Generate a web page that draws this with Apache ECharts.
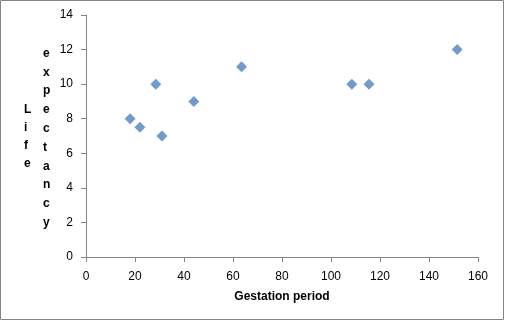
<!DOCTYPE html>
<html>
<head>
<meta charset="utf-8">
<script src="https://cdn.jsdelivr.net/npm/echarts@6/dist/echarts.min.js"></script>
<style>
html,body{margin:0;padding:0;background:#fff;}
#chart{width:505px;height:321px;}
</style>
</head>
<body>
<div id="chart"></div>
<script>
// gestation period vs life expectancy
var gestation = [18, 22, 28.5, 31, 44, 63.5, 108.5, 115.5, 151.5];
var lifeExp = [8, 7.5, 10, 7, 9, 11, 10, 10, 12];
var xTitle = 'Gestation period';
var yTitle1 = 'Life';
var yTitle2 = 'expectancy';

var points = [];
for (var i = 0; i < gestation.length; i++) {
    points.push([gestation[i], lifeExp[i]]);
}

var dom_chart = document.getElementById("chart");
var myChart = echarts.init(dom_chart);
var axisColor = '#868686';
var option = {
    animation: false,
    backgroundColor: '#fff',
    grid: {left: 86, right: 27, top: 15, bottom: 64},
    xAxis: {
        type: 'value',
        min: 0, max: 160, interval: 20,
        name: xTitle,
        nameLocation: 'middle',
        nameGap: 34,
        nameTextStyle: {color: '#000', fontSize: 12, fontWeight: 'bold', fontFamily: 'Liberation Sans'},
        axisLine: {show: true, lineStyle: {color: axisColor}},
        axisTick: {show: true, length: 5, lineStyle: {color: axisColor}},
        axisLabel: {color: '#000', fontSize: 12, margin: 14, fontFamily: 'Liberation Sans'},
        splitLine: {show: false}
    },
    yAxis: {
        type: 'value',
        min: 0, max: 14, interval: 2,
        axisLine: {show: true, lineStyle: {color: axisColor}},
        axisTick: {show: true, length: 5, lineStyle: {color: axisColor}},
        axisLabel: {color: '#000', fontSize: 12, margin: 13, fontFamily: 'Liberation Sans'},
        splitLine: {show: false}
    },
    graphic: [
        {type: 'rect', shape: {x: 0.5, y: 0.5, width: 503, height: 319},
         style: {fill: 'none', stroke: axisColor, lineWidth: 1}, silent: true},
        {type: 'text', left: 24, top: 101,
         style: {text: yTitle1.split('').join('\n'), fill: '#000', font: 'bold 12px "Liberation Sans"', lineHeight: 18, align: 'center'}},
        {type: 'text', left: 43, top: 44,
         style: {text: yTitle2.split('').join('\n'), fill: '#000', font: 'bold 12px "Liberation Sans"', lineHeight: 18.8, align: 'center'}}
    ],
    series: [{
        type: 'scatter',
        symbol: 'diamond',
        symbolSize: 11,
        itemStyle: {color: '#4f81bd'},
        data: points
    }]
};
myChart.setOption(option, true);
</script>
</body>
</html>
